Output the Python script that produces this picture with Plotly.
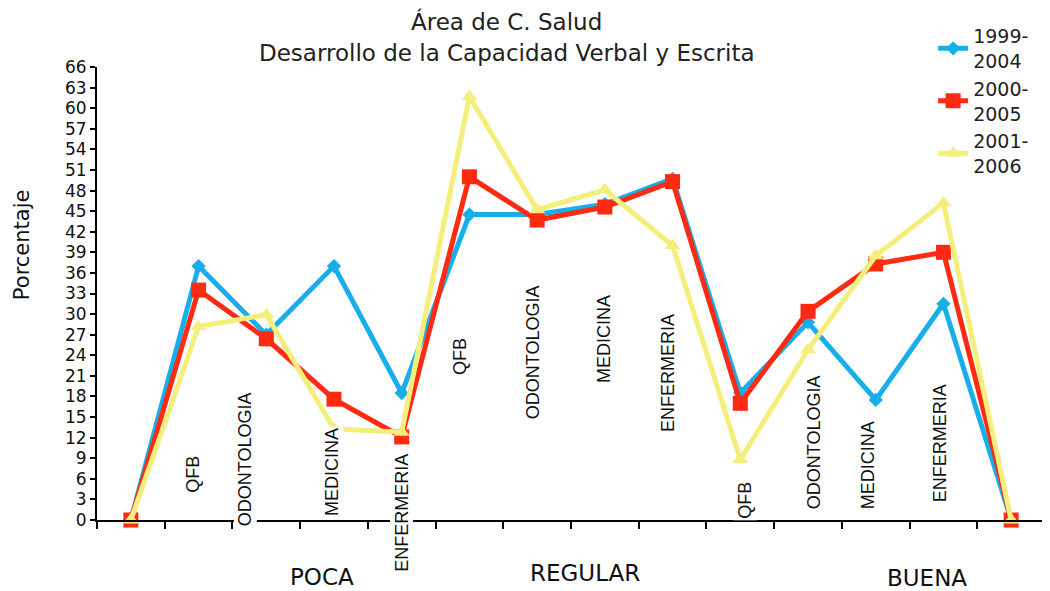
import plotly.graph_objects as go

# categories (14 slots: empty start, 3 groups x 4 careers, empty end)
careers = ["QFB", "ODONTOLOGIA", "MEDICINA", "ENFERMERIA"]
groups = ["POCA", "REGULAR", "BUENA"]
series_names = ["1999-<br>2004", "2000-<br>2005", "2001-<br>2006"]

v_1999_2004 = [0, 37, 27, 37, 18.5, 44.5, 44.5, 46, 49.7, 18.5, 28.8, 17.5, 31.5, 0]
v_2000_2005 = [0, 33.5, 26.4, 17.6, 12.1, 50, 43.7, 45.6, 49.3, 17, 30.4, 37.3, 39, 0]
v_2001_2006 = [0, 28.2, 29.9, 13.3, 12.8, 61.7, 45.2, 48.1, 40, 8.8, 24.8, 38.5, 46.2, 0]

y_ticks = list(range(0, 67, 3))

FONT = "DejaVu Sans, Verdana, sans-serif"
colors = ["#18aeea", "#ff2a12", "#f4ef7c"]
symbols = ["diamond", "square", "triangle-up"]
sizes = [11, 15, 14]

x = list(range(len(v_1999_2004)))
fig = go.Figure()
for name, vals, c, s, sz in zip(series_names, [v_1999_2004, v_2000_2005, v_2001_2006], colors, symbols, sizes):
    fig.add_trace(go.Scatter(
        x=x, y=vals, name=name, mode="lines+markers", cliponaxis=False,
        line=dict(color=c, width=5),
        marker=dict(symbol=s, size=sz, color=c),
    ))

# rotated career labels placed inside the plot (x, y centre in data units)
label_pos = [
    (0.92, 6.6), (1.69, 8.9), (2.97, 7.0), (4.0, 1.0),
    (4.86, 23.9), (5.93, 24.5), (6.99, 26.4), (7.93, 21.4),
    (9.07, 2.8), (10.08, 11.4), (10.89, 8.0), (11.95, 11.2),
]
annotations = []
k = 0
for g in groups:
    for c in careers:
        lx, ly = label_pos[k]
        annotations.append(dict(
            x=lx, y=ly, xref="x", yref="y", text=c, textangle=-90,
            showarrow=False, bgcolor="white", borderpad=1,
            font=dict(family="Liberation Sans Narrow, Arial Narrow, sans-serif", size=18, color="#111"),
        ))
        k += 1

group_x = [2.82, 6.71, 11.76]
group_y = [-0.126, -0.117, -0.127]
for g, gx, gy in zip(groups, group_x, group_y):
    annotations.append(dict(
        x=gx, y=gy, xref="x", yref="paper", yanchor="middle", text=g, showarrow=False,
        font=dict(family=FONT, size=23, color="#111"),
    ))

# two title lines and the y-axis title (plot area spans 453 px)
title_lines = ["Área de C. Salud", "Desarrollo de la Capacidad Verbal y Escrita"]
for line, py in zip(title_lines, [22, 53]):
    annotations.append(dict(
        x=0.432, y=(520 - py) / 453, xref="paper", yref="paper", yanchor="middle",
        text=line, showarrow=False, font=dict(family=FONT, size=23, color="#222"),
    ))
annotations.append(dict(
    x=-0.079, y=0.607, xref="paper", yref="paper", xanchor="center", yanchor="middle",
    text="Porcentaje", textangle=-90, showarrow=False,
    font=dict(family=FONT, size=21, color="#111"),
))

# the page adds an 8 px body margin, so the figure is drawn 8 px smaller
fig.update_layout(
    width=1042, height=583,
    paper_bgcolor="white", plot_bgcolor="white",
    margin=dict(l=89, r=5, t=59, b=71),
    showlegend=True,
    xaxis=dict(
        range=[-0.5, 13.5], tickmode="array",
        tickvals=[i - 0.5 for i in range(15)], ticktext=[""] * 15,
        ticks="outside", ticklen=7, tickwidth=1.5, tickcolor="black",
        showline=True, linecolor="black", linewidth=2,
        showgrid=False, zeroline=False, automargin=False,
    ),
    yaxis=dict(
        range=[0, 66], tickmode="array", tickvals=y_ticks,
        ticks="outside", ticklen=5, tickwidth=1.5, tickcolor="black",
        showline=True, linecolor="black", linewidth=2,
        showgrid=False, zeroline=False, automargin=False,
        tickfont=dict(family=FONT, size=17, color="#111"),
    ),
    legend=dict(
        x=0.882, y=1.11, xanchor="left", yanchor="top",
        bgcolor="rgba(0,0,0,0)", tracegroupgap=0,
        font=dict(family=FONT, size=19, color="#222"),
    ),
    annotations=annotations,
)

fig.write_html("out.html")
